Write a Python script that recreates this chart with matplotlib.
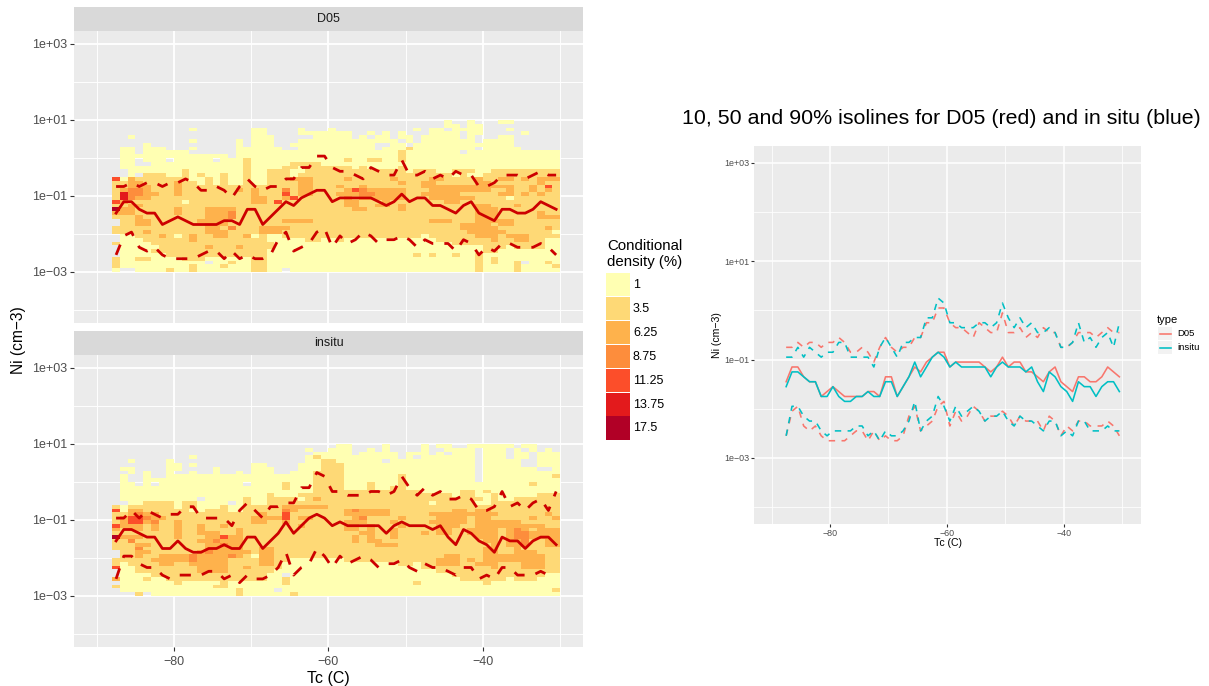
import numpy as np
import matplotlib
matplotlib.use('Agg')
import matplotlib.pyplot as plt
from matplotlib.colors import ListedColormap, BoundaryNorm
from matplotlib.patches import Rectangle
from matplotlib.lines import Line2D

plt.rcParams['font.family'] = ['Liberation Sans', 'DejaVu Sans']

W, H = 1209, 686

# temperature bins are 1 deg wide, Ni bins are 0.1 decade wide
tc_edges = np.arange(-88, -29)
ni_edges = 10.0 ** np.arange(-3, 1.05, 0.1)

# isolines, given as index of the Ni bin in each temperature column
d05_p50 = [15,18,18,16,15,15,12,13,14,13,12,12,12,12,13,13,12,16,16,12,14,16,18,17,19,20,21,21,
           18,19,19,19,19,19,18,17,18,20,18,19,19,17,17,16,15,17,18,15,14,13,16,16,15,15,16,18,17,16]
d05_p90 = [22,22,23,22,23,23,22,23,23,24,23,21,21,22,21,19,22,24,22,21,22,22,24,24,27,27,30,30,
           27,26,26,25,24,27,26,25,25,29,25,25,26,24,25,24,26,25,25,22,22,23,25,25,25,24,25,26,25,25]
d05_p10 = [4,9,10,6,5,6,4,3,3,3,3,4,5,5,3,5,3,4,3,3,4,8,10,5,6,7,10,11,
           6,9,7,8,10,9,7,8,8,9,8,6,8,7,7,7,5,8,7,4,6,5,7,7,6,6,6,7,6,4]
insitu_p50 = [14,17,17,16,15,15,12,12,14,12,11,11,12,12,13,12,12,15,15,12,14,16,19,16,18,20,21,20,
              18,19,18,18,18,18,18,16,18,19,18,18,18,17,18,15,13,17,16,14,13,11,15,14,14,12,14,15,15,13]
insitu_p90 = [20,20,22,20,22,21,20,21,21,23,23,20,20,20,20,18,22,24,22,20,23,23,24,24,28,28,32,31,
              27,27,26,26,26,27,27,26,27,31,28,26,28,26,27,25,25,26,25,22,22,23,27,23,24,22,24,25,22,27]
insitu_p10 = [4,10,10,8,7,7,5,4,5,5,5,5,6,6,4,5,3,5,4,4,5,7,11,5,7,8,12,10,
              7,10,8,9,10,9,7,8,8,9,7,6,8,7,7,6,5,7,7,4,5,4,7,7,5,5,5,6,5,5]

# density class of each cell, top row first: '.' no data, 1..7 legend class
d05_rows = [
    ".......... .......... .......... .......... ...1..1... 11......",
    ".......... .......... .......... .......... ...11.11.. ........",
    ".......... 1.......11 ....1...1. .........1 .11.1111.. .1......",
    ".......... ........11 ....111111 1..1.1.1.. .1111.11.. ...1....",
    "..1....... ........11 1.....1111 1.1.11.11. 11111.1... 11......",
    ".......... 1.....1.11 1...111111 1111111.1. 1111111.11 11......",
    "....1..... ......1.11 1..1111111 1111..11.1 1111111111 11......",
    ".11.111... 1.....1111 11..111111 1111.11121 1111111.11 111.....",
    ".11.111111 ......1111 1111111111 1111111211 11111.1111 11111111",
    ".111111111 11111.1111 1111111111 1111111211 1111111111 11111111",
    ".11.111.11 111.111211 1111111111 2112211211 1111111111 11111111",
    ".11..11111 1111111211 1112222111 1111111111 1111111111 11111111",
    ".111111111 1111111211 1122122222 2121111211 1111111111 11111111",
    "..11111112 1111111211 2221122222 2222222212 2211222112 22222222",
    "..1.222112 1211211211 2221222222 2222222222 2222121122 22222222",
    "5132222222 1121211211 2223332222 3222223222 2332222322 33232333",
    "2233222232 2121211211 2222332222 2222222322 3322222332 22222322",
    "2233322232 2222222222 2222332223 2232222222 3333333333 33223252",
    "2344322232 2222223232 2242332222 3543333322 2333333332 23223232",
    "2644332232 2222222232 2252332223 3344333322 3333322222 33232322",
    "2643322222 2222222233 2235222222 3233333322 2333333222 21222222",
    "5322222221 2222222233 2522222222 3322232222 2223322222 22222222",
    "2233222222 2222222222 2222222222 3322332322 2222222332 22322222",
    "7332222232 2233332222 2222222222 2332222322 2222222333 22222222",
    "3332222232 2233342222 2222222222 2222222222 2222222333 22222322",
    "2223222222 2233342222 2222222222 2222222222 2222222333 22222333",
    ".223322222 2333322222 2233332222 2222222222 2333222333 33222222",
    ".223322222 2233322222 2222222222 2222222222 2222233332 33222222",
    "2222222222 2233242223 3332222222 2222222222 2222233333 22222232",
    "2222322222 2233322223 3322222222 2222222222 2222223333 32222221",
    ".112223212 3223322312 1122222222 2222222222 1222222333 23332222",
    ".111222222 3222222222 1111122112 1111111111 1122222223 22332211",
    "2111122222 2222222222 2111111111 1111111111 1111222222 22222211",
    ".111112222 2232223222 2111111111 1111111111 1111111122 21222211",
    ".111122222 2222222222 1111111111 1111111111 1111111122 11111111",
    ".111111222 2222222222 1111111111 1111111112 1211211211 11111111",
    "2112211112 2211111122 1111111111 1111111111 1111111212 11111111",
    "2111111111 11.1121122 1111111111 1111111111 1111111212 112.1121",
    "2111111111 2111211122 1111111111 1111111111 1111111211 11211112",
    "1..1111211 2111111122 11.1111111 1111111111 1111111211 11211111",
]
insitu_rows = [
    ".......... .......... .........1 1....1.... 1.11..1111 11.11...",
    ".......... .......... .....1..11 1..1.1.... 1..1111.11 1.1.1.1.",
    ".......... .......... ......1111 1.11111.11 1.1.111.11 1.11.111",
    ".......... 1......... .....12111 1111111.1. 1111111.11 1.11.111",
    "..1....1.. .......... .....11221 11111.1111 1111111.11 111..111",
    ".......11. 1.......11 ....111222 1111111111 1111111.11 111..111",
    ".11....11. ...1....11 1...111222 1111111111 1111111.11 11111..1",
    "..1.1..1.. 1..1..1.11 1..1112222 1111111111 1111111.11 11111111",
    ".1..1..111 1111111111 1111112222 1111111211 1111111.11 11111112",
    ".1..111111 1111111111 1111112222 1111111211 1111111.11 11111111",
    ".11.1.1111 1111111.11 1121112222 1112111211 1111111111 11112111",
    ".111111111 1111111111 1121112222 1112112211 1111111111 11111111",
    ".111111111 1111111111 1111112222 2222222222 1111122121 11111111",
    ".111111111 1111111111 2111222222 2222222222 2222122112 11111222",
    ".111111111 1.11111211 2222123222 2222222222 2222222212 11222222",
    "..11222212 21111.1211 2222222222 2222222222 2122222112 22222222",
    "2122222212 2111211222 2233333322 2222222222 2222222222 22222222",
    "5133222222 1122211222 2243222222 3433332222 2222332332 22222222",
    "2234332222 2222222223 2252222222 3333332222 2333333333 22222232",
    "2355433222 2222222233 3352332222 2342222322 2233332332 22223223",
    "2355342232 2222222233 2232222222 3332223222 2333332333 33322222",
    "5333232232 2322322222 2222322222 3323222322 2233322333 33333322",
    "3233232232 2322223222 2222222222 3323223222 2233223333 23432333",
    "2222222232 2333223222 2222222222 2233223222 3233223333 23443333",
    "7333222232 2233533222 2222222222 2323223222 2222222333 23443333",
    "2242222222 2334333222 2222222222 2323322222 2222222233 23342233",
    "2223322222 2233433222 2222222222 2222333222 2222222223 23342233",
    "2224222222 2233333223 3222222222 2222222222 2222222233 22322222",
    ".223322222 2343333323 3222222222 2222222222 2222222233 22333222",
    ".223223333 4333343213 3222222222 2222222222 2223322233 33333322",
    "2222233333 4333322223 3221111111 2222222222 2233323233 33333322",
    "2122223322 3333322223 3211111111 1111111221 2233322333 22233322",
    "5112222222 2333322322 2211111111 1111111111 2222222223 22233322",
    ".112222222 2333322222 2111111111 1111111111 1122222222 22222222",
    ".111122222 2222222222 11.1111111 1111111111 1111222222 22222211",
    "3111211222 2222222222 1121111111 1111111111 1111122222 21222111",
    ".111111121 1111211111 1121111111 1111111112 1111111121 11111111",
    "2111111111 1112211111 1111111111 1111111111 1111111111 11111111",
    ".111111111 1111112111 1.11111111 1111111111 1111111111 11111112",
    "...2.11111 1111112111 1112111111 1111111111 1111111111 11111111",
]

legend_labels = ['1', '3.5', '6.25', '8.75', '11.25', '13.75', '17.5']
legend_colors = ['#FFFFB2', '#FED976', '#FEB24C', '#FD8D3C', '#FC4E2A', '#E31A1C', '#B10026']
y_ticks = [1e3, 1e1, 1e-1, 1e-3]
y_tick_labels = ['1e+03', '1e+01', '1e\u221201', '1e\u221203']
y_minor = [1e2, 1e0, 1e-2, 1e-4]
x_ticks = [-80, -60, -40]
x_minor = [-90, -70, -50, -30]

RED = '#F8766D'
TEAL = '#00BFC4'
DARK = '#CC0000'
GREY = '#4D4D4D'


def rows_to_grid(rows):
    rows = [r.replace(' ', '') for r in rows][::-1]
    grid = np.zeros((len(rows), len(rows[0])))
    for i, r in enumerate(rows):
        for j, c in enumerate(r):
            grid[i, j] = 0 if c == '.' else int(c)
    return np.ma.masked_equal(grid, 0)


def bins_to_ni(bins):
    return 10.0 ** (-3 + 0.1 * (np.array(bins) + 0.5))


def px_axes(x0, y0, x1, y1):
    return fig.add_axes([x0 / W, 1 - y1 / H, (x1 - x0) / W, (y1 - y0) / H])


def style_axes(ax, xlim, ylim, tick_size, major_lw, minor_lw, tick_len):
    ax.set_facecolor('#EBEBEB')
    for s in ax.spines.values():
        s.set_visible(False)
    ax.set_yscale('log')
    ax.set_xlim(*xlim)
    ax.set_ylim(*ylim)
    ax.set_xticks(x_ticks)
    ax.set_xticks(x_minor, minor=True)
    ax.set_yticks(y_ticks)
    ax.set_yticklabels(y_tick_labels)
    ax.set_yticks(y_minor, minor=True)
    ax.set_yticklabels([], minor=True)
    ax.set_xticklabels([str(t).replace('-', '\u2212') for t in x_ticks])
    ax.grid(True, which='major', color='white', lw=major_lw)
    ax.grid(True, which='minor', color='white', lw=minor_lw)
    ax.set_axisbelow(True)
    ax.tick_params(which='minor', length=0)
    ax.tick_params(which='major', length=tick_len, width=0.8, color='#333333',
                   labelsize=tick_size, labelcolor=GREY, pad=2)


fig = plt.figure(figsize=(W / 100, H / 100), dpi=100)

cmap = ListedColormap(legend_colors)
norm = BoundaryNorm(np.arange(0.5, 8.5), cmap.N)

left_xlim = (-92.95, -27.02)
y_lim = (10.0 ** -4.35, 10.0 ** 3.342)

panels = [
    ('D05', d05_rows, d05_p50, d05_p90, d05_p10, 31, 323.3),
    ('insitu', insitu_rows, insitu_p50, insitu_p90, insitu_p10, 355, 647.3),
]
tc_mid = tc_edges[:-1] + 0.5

for name, rows, p50, p90, p10, top, bottom in panels:
    ax = px_axes(74, top, 583, bottom)
    style_axes(ax, left_xlim, y_lim, 9.0, 1.3, 0.65, 3)
    ax.pcolormesh(tc_edges, ni_edges, rows_to_grid(rows), cmap=cmap, norm=norm, zorder=2)
    ax.plot(tc_mid, bins_to_ni(p50), color=DARK, lw=2.0, zorder=3)
    for iso in (p90, p10):
        ax.plot(tc_mid, bins_to_ni(iso), color=DARK, lw=2.0, ls=(0, (4, 4)), zorder=3)
    strip = px_axes(74, top - 24, 583, top)
    strip.set_facecolor('#D9D9D9')
    strip.set_xticks([])
    strip.set_yticks([])
    for s in strip.spines.values():
        s.set_visible(False)
    strip.text(0.5, 0.48, name, transform=strip.transAxes, ha='center', va='center',
               fontsize=9.0, color='#1A1A1A')
    if name == 'D05':
        ax.tick_params(axis='x', length=0, labelbottom=False)
    else:
        ax.tick_params(axis='x', pad=3)
        ax.set_xlabel('Tc (C)', fontsize=11.5, labelpad=2.5)

fig.text(18 / W, 1 - 340 / H, 'Ni (cm\u22123)', rotation=90, ha='center', va='center', fontsize=11.2)

# legend of the density classes
fig.text(607 / W, 1 - 254 / H, 'Conditional\ndensity (%)', ha='left', va='center',
         fontsize=10.8, linespacing=1.2)
for i, (lab, col) in enumerate(zip(legend_labels, legend_colors)):
    y0 = 273 + i * 23.9
    fig.add_artist(Rectangle((606 / W, 1 - (y0 + 23.2) / H), 24 / W, 23.2 / H,
                             transform=fig.transFigure, facecolor=col, edgecolor='none'))
    fig.text(633 / W, 1 - (y0 + 12) / H, lab, ha='left', va='center', fontsize=9.0)

# overlay of the isolines
ax2 = px_axes(754, 146, 1141, 524.3)
style_axes(ax2, (-93.0, -26.8), (10.0 ** -4.35, 10.0 ** 3.345), 6.4, 1.1, 0.55, 2)
ax2.tick_params(axis='both', pad=1.2)
for p50, p90, p10, col in [(d05_p50, d05_p90, d05_p10, RED),
                           (insitu_p50, insitu_p90, insitu_p10, TEAL)]:
    ax2.plot(tc_mid, bins_to_ni(p50), color=col, lw=1.15)
    for iso in (p90, p10):
        ax2.plot(tc_mid, bins_to_ni(iso), color=col, lw=1.15, ls=(0, (4, 4)))
ax2.set_xlabel('Tc (C)', fontsize=7.6, labelpad=0.5)
ax2.set_ylabel('Ni (cm\u22123)', fontsize=7.6, labelpad=1.5)

fig.text(682 / W, 1 - 118 / H, '10, 50 and 90% isolines for D05 (red) and in situ (blue)',
         ha='left', va='center', fontsize=15.4)

# legend of the overlay
fig.text(1157 / W, 1 - 320 / H, 'type', ha='left', va='center', fontsize=8)
for i, (lab, col) in enumerate([('D05', RED), ('insitu', TEAL)]):
    y0 = 327 + i * 14
    fig.add_artist(Rectangle((1158 / W, 1 - (y0 + 13.4) / H), 14 / W, 13.4 / H,
                             transform=fig.transFigure, facecolor='#F2F2F2', edgecolor='none'))
    fig.add_artist(Line2D([1159.5 / W, 1170.5 / W], [1 - (y0 + 6.7) / H] * 2,
                          transform=fig.transFigure, color=col, lw=1.15))
    fig.text(1177 / W, 1 - (y0 + 7) / H, lab, ha='left', va='center', fontsize=6.8)

fig.savefig('out.png', dpi=100)
